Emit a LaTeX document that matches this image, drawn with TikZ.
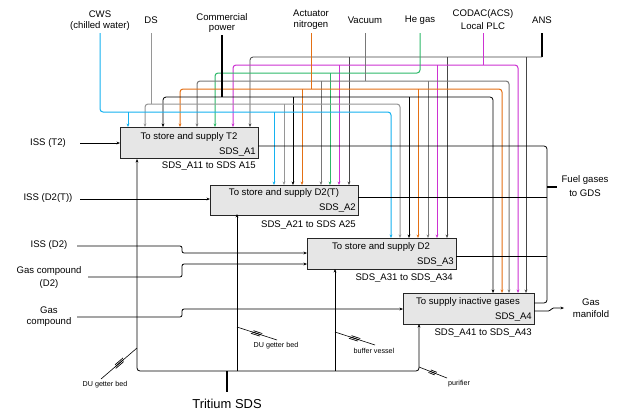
\documentclass[tikz,border=0pt]{standalone}
\usepackage{fontspec}
\setmainfont{Liberation Sans}
\usetikzlibrary{arrows.meta,calc}
\definecolor{cwsc}{RGB}{20,178,240}
\definecolor{dsc}{RGB}{150,150,150}
\definecolor{vacc}{RGB}{120,120,120}
\definecolor{ornc}{RGB}{228,112,20}
\definecolor{grnc}{RGB}{45,185,105}
\definecolor{magc}{RGB}{205,50,210}
\definecolor{ansc}{RGB}{70,70,70}
\definecolor{boxc}{RGB}{230,230,230}
\newcommand\sdshatch[2]{%
  \draw[line width=0.6bp] (#1) -- (#2);
  \draw[line width=0.7bp] ($(#1)!0.40!(#2)!1.6bp!90:(#2)$) -- ($(#1)!0.62!(#2)!1.6bp!90:(#2)$);
  \draw[line width=0.7bp] ($(#1)!0.38!(#2)$) -- ($(#1)!0.60!(#2)$);
  \draw[line width=0.7bp] ($(#1)!0.36!(#2)!1.6bp!-90:(#2)$) -- ($(#1)!0.58!(#2)!1.6bp!-90:(#2)$);
}
\begin{document}
\begin{tikzpicture}[x=1bp,y=-1bp,
  every node/.style={font=\fontsize{9.6}{11}\selectfont, inner sep=0pt},
  sbox/.style={draw=black!85, fill=boxc, line width=0.8bp, anchor=north west},
  sdsline/.style={line width=0.8bp, rounded corners=3bp},
  cline/.style={line width=1bp, rounded corners=3bp},
  smalltxt/.style={font=\fontsize{7.2}{8}\selectfont},
  >={Stealth[length=3.5bp,width=2.8bp]}]
\fill[white] (0,0) rectangle (624,414);
\useasboundingbox (0,0) rectangle (624,414);

% ---------- boxes ----------
\node[sbox, minimum width=138bp, minimum height=31bp] (A1) at (120,127) {};
\node[sbox, minimum width=148bp, minimum height=30bp] (A2) at (210,185) {};
\node[sbox, minimum width=149bp, minimum height=31bp] (A3) at (307,238) {};
\node[sbox, minimum width=131bp, minimum height=31bp] (A4) at (403,293) {};

\node (A1t) at (189,137) {To store and supply T2};
\node[anchor=east] (A1n) at (256,152) {SDS\_A1};
\node[anchor=east] (A1l) at (256,166) {SDS\_A11 to SDS A15};
\node (A2t) at (284,193) {To store and supply D2(T)};
\node[anchor=east] (A2n) at (356,208) {SDS\_A2};
\node[anchor=east] (A2l) at (356,225) {SDS\_A21 to SDS A25};
\node (A3t) at (381,247) {To store and supply D2};
\node[anchor=east] (A3n) at (454,262) {SDS\_A3};
\node[anchor=east] (A3l) at (453,278) {SDS\_A31 to SDS\_A34};
\node (A4t) at (468,302) {To supply inactive gases};
\node[anchor=east] (A4n) at (532,317) {SDS\_A4};
\node[anchor=east] (A4l) at (532,333) {SDS\_A41 to SDS\_A43};

% ---------- sources ----------
\node (s1a) at (100,14) {CWS};
\node (s1b) at (100,26) {(chilled water)};
\node (s2) at (151,20) {DS};
\node (s3a) at (222,17) {Commercial};
\node (s3b) at (222,29) {power};
\node (s4a) at (311,13) {Actuator};
\node (s4b) at (311,25) {nitrogen};
\node (s5) at (365,20) {Vacuum};
\node (s6) at (420,20) {He gas};
\node (s7a) at (483,14) {CODAC(ACS)};
\node (s7b) at (483,26) {Local PLC};
\node (s8) at (542,20) {ANS};

% ANS (top black bus)
\draw[line width=1.8bp] (542,33) -- (542,57);
\draw[sdsline, ansc, <-] (250,127) -- (250,57) -- (542,57);
\draw[sdsline, ansc, ->] (349,57) -- (349,185);
\draw[sdsline, ansc, ->] (447,57) -- (447,238);
\draw[sdsline, ansc, ->] (526,57) -- (526,293);

% CODAC (magenta)
\draw[cline, magc, <->] (233,127) -- (233,65) -- (518,65) -- (518,293);
\draw[cline, magc] (483,33) -- (483,65);
\draw[cline, magc, ->] (339,65) -- (339,185);
\draw[cline, magc, ->] (437,65) -- (437,238);

% He gas (green)
\draw[cline, grnc, <-] (215,127) -- (215,73) -- (420,73) -- (420,33);
\draw[cline, grnc, ->] (330,73) -- (330,185);

% Vacuum (gray)
\draw[cline, vacc, <->] (197,127) -- (197,81) -- (509,81) -- (509,293);
\draw[cline, vacc] (365,33) -- (365,81);
\draw[cline, vacc, ->] (321,81) -- (321,185);
\draw[cline, vacc, ->] (428,81) -- (428,238);

% Actuator nitrogen (orange)
\draw[cline, ornc, <->] (180,127) -- (180,89) -- (502,89) -- (502,293);
\draw[cline, ornc] (311,33) -- (311,89);
\draw[cline, ornc, ->] (302,89) -- (302,185);
\draw[cline, ornc, ->] (418,89) -- (418,238);

% Commercial power (black)
\draw[sdsline, <->] (163,127) -- (163,97) -- (493,97) -- (493,293);
\draw[line width=1.2bp] (222,35) -- (222,97);
\draw[sdsline, ->] (293,97) -- (293,185);
\draw[sdsline, ->] (409,97) -- (409,238);

% DS (gray)
\draw[cline, dsc, <->] (145,127) -- (145,104) -- (400,104) -- (400,238);
\draw[cline, dsc] (151,33) -- (151,104);
\draw[cline, dsc, ->] (284,104) -- (284,185);

% CWS (cyan)
\draw[cline, cwsc, ->] (100,33) -- (100,112) -- (391,112) -- (391,238);
\draw[cline, cwsc, ->] (128,112) -- (128,127);
\draw[cline, cwsc, ->] (274,112) -- (274,185);

% ---------- left inputs ----------
\node (i1) at (48,143) {ISS (T2)};
\draw[sdsline, ->] (80,143) -- (120,143);
\node (i2) at (48,198) {ISS (D2(T))};
\draw[sdsline, ->] (80,199) -- (210,199);
\node (i3) at (49,245) {ISS (D2)};
\draw[sdsline, rounded corners=2bp, ->] (77,246) -- (182,246) -- (182,253) -- (307,253);
\node (i4a) at (49,271) {Gas compound};
\node (i4b) at (49,284) {(D2)};
\draw[sdsline, rounded corners=2bp, ->] (88,277) -- (182,277) -- (182,264) -- (307,264);
\node (i5a) at (49,310) {Gas};
\node (i5b) at (49,322) {compound};
\draw[sdsline, rounded corners=2bp, ->] (77,317) -- (182,317) -- (182,309) -- (403,309);

% ---------- right outputs ----------
\draw[sdsline] (258,146) -- (547,146) -- (547,303) -- (534,303);
\draw[sdsline] (358,197) -- (547,197);
\draw[sdsline] (456,256) -- (547,256);
\draw[line width=1.5bp] (547,187) -- (557,187);
\node (fg1) at (585,180) {Fuel gases};
\node (fg2) at (585,193) {to GDS};
\draw[sdsline, rounded corners=1.5bp, ->] (534,311) -- (550,311) -- (552,308) -- (564,308);
\node (gm1) at (591,302) {Gas};
\node (gm2) at (591,314) {manifold};

% ---------- bottom ----------
\draw[sdsline, <->] (137,159) -- (137,371) -- (419,371) -- (419,324);
\draw[sdsline, ->] (237,371) -- (237,214);
\draw[sdsline, ->] (335,371) -- (335,269);
\draw[line width=1.8bp] (227,371) -- (227,392);
\node[font=\fontsize{13}{15}\selectfont] (trit) at (227,404) {Tritium SDS};

\coordinate (h1a) at (137,348); \coordinate (h1b) at (101,379);
\sdshatch{h1a}{h1b}
\node[smalltxt] (d1) at (105,385) {DU getter bed};
\coordinate (h2a) at (237,327); \coordinate (h2b) at (277,340);
\sdshatch{h2a}{h2b}
\node[smalltxt] (d2) at (276,346) {DU getter bed};
\coordinate (h3a) at (335,332); \coordinate (h3b) at (375,345);
\sdshatch{h3a}{h3b}
\node[smalltxt] (d3) at (374,351) {buffer vessel};
\coordinate (h4a) at (419,367); \coordinate (h4b) at (447,378);
\sdshatch{h4a}{h4b}
\node[smalltxt] (d4) at (459,384) {purifier};
\end{tikzpicture}
\end{document}
